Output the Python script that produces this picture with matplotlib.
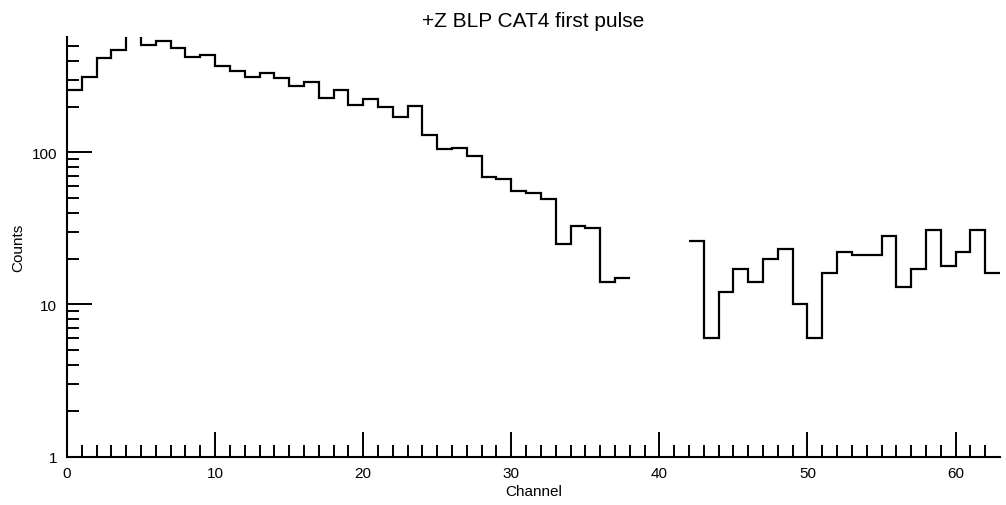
import numpy as np
import matplotlib
matplotlib.use("Agg")
import matplotlib.pyplot as plt
from matplotlib.ticker import FixedLocator, NullFormatter, FuncFormatter

# Per-channel counts (channels 0..62); empty channels are not drawn on the log axis
channels = np.arange(64)  # bin edges
counts = [258, 313, 418, 469, 620, 506, 540, 486, 426, 439,
          370, 343, 313, 333, 306, 274, 292, 228, 255, 205,
          223, 199, 171, 201, 129, 105, 107, 94, 69, 67,
          56, 54, 49, 25, 33, 32, 14, 15, 0, 0,
          0, 0, 26, 6, 12, 17, 14, 20, 23, 10,
          6, 16, 22, 21, 21, 28, 13, 17, 31, 18,
          22, 31, 16]
x_major = [0, 10, 20, 30, 40, 50, 60]
y_major = [1, 10, 100]

plt.rcParams["font.family"] = ["Liberation Sans", "DejaVu Sans"]

fig = plt.figure(figsize=(10.06, 5.06), dpi=100)
ax = fig.add_axes([67 / 1006, 1 - 457.5 / 506, (1000 - 67) / 1006, (457.5 - 38) / 506])

vals = np.array(counts, dtype=float)
vals[vals <= 0] = np.nan
ax.stairs(vals, channels, baseline=None, color="black", linewidth=1.6)

ax.set_yscale("log")
ax.set_xlim(0, 63)
ax.set_ylim(1, 573)

for s in ("top", "right"):
    ax.spines[s].set_visible(False)
for s in ("left", "bottom"):
    ax.spines[s].set_linewidth(1.5)

ax.xaxis.set_major_locator(FixedLocator(x_major))
ax.xaxis.set_minor_locator(FixedLocator([c for c in range(63) if c % 10]))
ax.yaxis.set_major_locator(FixedLocator(y_major))
minor_y = [m * d for d in (1, 10, 100) for m in range(2, 10) if m * d < 573]
ax.yaxis.set_minor_locator(FixedLocator(minor_y))
ax.yaxis.set_major_formatter(FuncFormatter(lambda v, p: f"{int(round(v))}"))
ax.yaxis.set_minor_formatter(NullFormatter())

ax.tick_params(which="major", direction="in", length=18, width=1.4,
               labelsize=11, pad=7, top=False, right=False)
ax.tick_params(which="minor", direction="in", length=8.6, width=1.4,
               top=False, right=False)

ax.set_xlabel("Channel", fontsize=11, labelpad=3)
ax.set_ylabel("Counts", fontsize=11, labelpad=5)
ax.set_title("+Z BLP CAT4 first pulse", fontsize=15, pad=8)

fig.savefig("out.png", dpi=100)
